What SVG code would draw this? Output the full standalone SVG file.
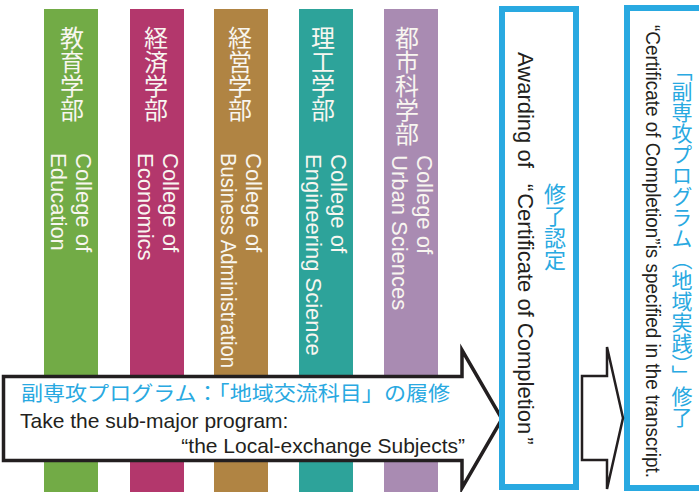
<svg xmlns="http://www.w3.org/2000/svg" width="699" height="492" viewBox="0 0 699 492">
<style>
.col-jp{font-family:"Noto Sans CJK JP",sans-serif;font-size:24px;fill:#f8f6f0;writing-mode:vertical-rl;}
.col-en{font-family:"Liberation Sans",Arial,sans-serif;font-size:22px;fill:#f8f6f0;}
.blue-jp{font-family:"Noto Sans CJK JP",sans-serif;fill:#29a9e1;}
.en{font-family:"Liberation Sans","Noto Sans CJK JP",sans-serif;fill:#231f20;}
.box{fill:#ffffff;stroke:#29a9e1;stroke-width:6;}
.arrow{fill:#ffffff;stroke:#231f20;stroke-linejoin:miter;}
</style>
<rect width="699" height="492" fill="#ffffff"/>
<g id="col-education">
<rect x="44" y="9" width="54" height="483" fill="#72ab46"/>
<text class="col-jp" x="72" y="26">教育学部</text>
<text class="col-en" transform="translate(76,153) rotate(90)"><tspan x="0" y="0">College of</tspan><tspan x="0" y="25">Education</tspan></text>
</g>
<g id="col-economics">
<rect x="130" y="9" width="54" height="483" fill="#b3376c"/>
<text class="col-jp" x="156" y="26">経済学部</text>
<text class="col-en" transform="translate(163,153) rotate(90)"><tspan x="0" y="0">College of</tspan><tspan x="0" y="25">Economics</tspan></text>
</g>
<g id="col-business">
<rect x="214" y="9" width="54" height="483" fill="#b08443"/>
<text class="col-jp" x="240" y="26">経営学部</text>
<text class="col-en" transform="translate(246,153) rotate(90)"><tspan x="0" y="0">College of</tspan><tspan x="0" y="25" textLength="215" lengthAdjust="spacingAndGlyphs">Business Administration</tspan></text>
</g>
<g id="col-engineering">
<rect x="299" y="9" width="54" height="483" fill="#2da39a"/>
<text class="col-jp" x="323" y="26">理工学部</text>
<text class="col-en" transform="translate(331,154) rotate(90)"><tspan x="0" y="0">College of</tspan><tspan x="0" y="25">Engineering Science</tspan></text>
</g>
<g id="col-urban">
<rect x="384" y="9" width="54" height="483" fill="#a98bb2"/>
<text class="col-jp" x="407" y="26">都市科学部</text>
<text class="col-en" transform="translate(417,155) rotate(90)"><tspan x="0" y="0">College of</tspan><tspan x="0" y="25">Urban Sciences</tspan></text>
</g>
<g id="take-program">
<path class="arrow" stroke-width="3.5" d="M3.5,376.5 H462 V350 L502,419 L462,488 V460.5 H3.5 Z"/>
<text class="blue-jp" x="21" y="401" font-size="20.5" textLength="429" lengthAdjust="spacingAndGlyphs">副専攻プログラム：「地域交流科目」の履修</text>
<text class="en" x="20" y="428" font-size="21">Take the sub-major program:</text>
<text class="en" x="465" y="453" font-size="21" text-anchor="end">“the Local-exchange Subjects”</text>
</g>
<g id="box-awarding">
<rect class="box" x="502" y="9" width="74" height="478"/>
<text class="en" font-size="22" transform="translate(518,52) rotate(90)">Awarding of <tspan dx="10">“</tspan><tspan dx="2">Certificate of Completion</tspan><tspan dx="3">”</tspan></text>
<text class="blue-jp" x="555" y="183" font-size="22" style="writing-mode:vertical-rl">修了認定</text>
</g>
<g id="box-certificate">
<rect class="box" x="627" y="8" width="90" height="480"/>
<text class="en" font-size="20" transform="translate(646,25) rotate(90)" textLength="453" lengthAdjust="spacingAndGlyphs">“Certificate of Completion”is specified in the transcript.</text>
<text class="blue-jp" x="682" y="60" font-size="21" style="writing-mode:vertical-rl">「副専攻プログラム（地域実践）」修了</text>
</g>
<g id="connectors">
<path class="arrow" stroke-width="2.5" d="M582,376 H607 V347 L623,418 L607,489 V460 H582 Z"/>
</g>
</svg>
